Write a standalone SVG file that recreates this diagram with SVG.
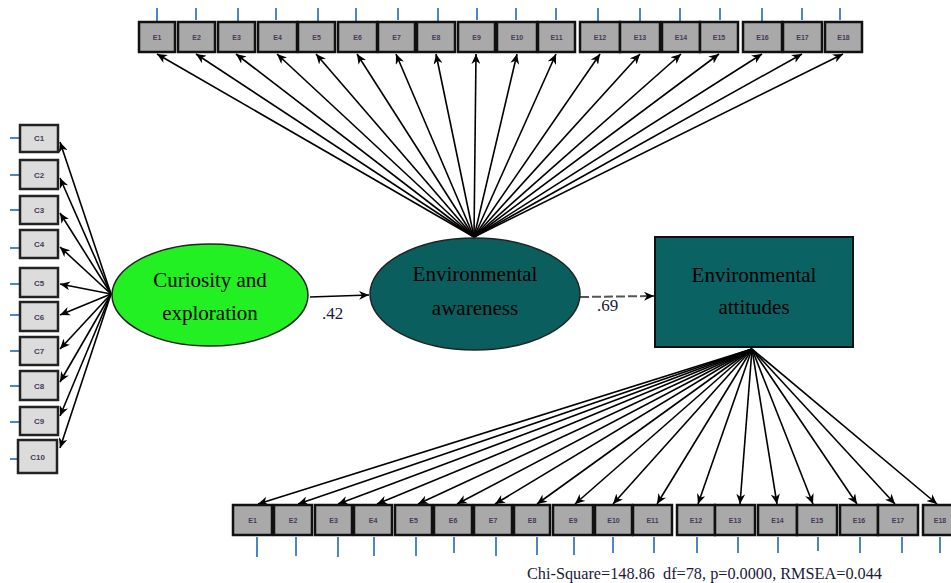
<svg xmlns="http://www.w3.org/2000/svg" width="951" height="583" viewBox="0 0 951 583">
<defs>
<marker id="ah" markerUnits="userSpaceOnUse" markerWidth="11" markerHeight="9" refX="10" refY="4.5" orient="auto">
<path d="M0,0 L10,4.5 L0,9 L3,4.5 z" fill="#000"/>
</marker>
<style>
.ib{fill:#a9a9a9;stroke:#111;stroke-width:2.5}
.cb{fill:#dcdcdc;stroke:#222;stroke-width:2.5}
.bl{stroke:#4a86c8;stroke-width:2}
.lt{font-family:"Liberation Sans",Arial,sans-serif;font-size:7px;font-weight:bold;fill:#4a3a5a;text-anchor:middle}
.ct{font-family:"Liberation Sans",Arial,sans-serif;font-size:8px;font-weight:bold;fill:#4a3a5a;text-anchor:middle}
.nt{font-family:"Liberation Serif","Times New Roman",serif;font-size:21px;fill:#000;text-anchor:middle}
.cn line{stroke:#000;stroke-width:1.6;marker-end:url(#ah)}
.pl{font-family:"Liberation Serif","Times New Roman",serif;font-size:17px;fill:#1a1a3a}
</style>
</defs>
<rect width="951" height="583" fill="#fff"/>

<g id="connectors" class="cn">
<!-- awareness to top indicators -->
<line x1="474" y1="237" x2="157" y2="54"/>
<line x1="474" y1="237" x2="196" y2="54"/>
<line x1="474" y1="237" x2="236" y2="54"/>
<line x1="474" y1="237" x2="277" y2="54"/>
<line x1="474" y1="237" x2="316" y2="54"/>
<line x1="474" y1="237" x2="357" y2="54"/>
<line x1="474" y1="237" x2="396" y2="54"/>
<line x1="474" y1="237" x2="436" y2="54"/>
<line x1="474" y1="237" x2="476" y2="54"/>
<line x1="474" y1="237" x2="517" y2="54"/>
<line x1="474" y1="237" x2="556" y2="54"/>
<line x1="474" y1="237" x2="600" y2="54"/>
<line x1="474" y1="237" x2="640" y2="54"/>
<line x1="474" y1="237" x2="681" y2="54"/>
<line x1="474" y1="237" x2="719" y2="54"/>
<line x1="474" y1="237" x2="762" y2="54"/>
<line x1="474" y1="237" x2="802" y2="54"/>
<line x1="474" y1="237" x2="843" y2="54"/>
<!-- curiosity to C indicators -->
<line x1="111" y1="294" x2="60" y2="142"/>
<line x1="111" y1="294" x2="60" y2="178"/>
<line x1="111" y1="294" x2="60" y2="213"/>
<line x1="111" y1="294" x2="60" y2="247"/>
<line x1="111" y1="294" x2="60" y2="284"/>
<line x1="111" y1="294" x2="60" y2="315"/>
<line x1="111" y1="294" x2="60" y2="349"/>
<line x1="111" y1="294" x2="60" y2="382"/>
<line x1="111" y1="294" x2="60" y2="416"/>
<line x1="111" y1="294" x2="60" y2="448"/>
<!-- attitudes to bottom indicators -->
<line x1="752" y1="349" x2="258" y2="504"/>
<line x1="752" y1="349" x2="298" y2="504"/>
<line x1="752" y1="349" x2="338" y2="504"/>
<line x1="752" y1="349" x2="377" y2="504"/>
<line x1="752" y1="349" x2="418" y2="504"/>
<line x1="752" y1="349" x2="457" y2="504"/>
<line x1="752" y1="349" x2="495" y2="504"/>
<line x1="752" y1="349" x2="537" y2="504"/>
<line x1="752" y1="349" x2="575" y2="504"/>
<line x1="752" y1="349" x2="613" y2="504"/>
<line x1="752" y1="349" x2="657" y2="504"/>
<line x1="752" y1="349" x2="698" y2="504"/>
<line x1="752" y1="349" x2="740" y2="504"/>
<line x1="752" y1="349" x2="777" y2="504"/>
<line x1="752" y1="349" x2="813" y2="504"/>
<line x1="752" y1="349" x2="857" y2="504"/>
<line x1="752" y1="349" x2="895" y2="504"/>
<line x1="752" y1="349" x2="937" y2="504"/>
<!-- structural paths -->
<line x1="310" y1="297" x2="369" y2="295"/>
<line x1="580" y1="297" x2="654" y2="296" style="stroke:#555;stroke-width:2;stroke-dasharray:9 3"/>
</g>

<g id="path-labels">
<text class="pl" x="322" y="319">.42</text>
<text class="pl" x="597" y="311">.69</text>
</g>

<g id="curiosity">
<ellipse cx="210" cy="295" rx="98" ry="51" fill="#22f022" stroke="#222" stroke-width="1.5"/>
<text class="nt" x="210" y="287">Curiosity and</text>
<text class="nt" x="210" y="320">exploration</text>
</g>

<g id="awareness">
<ellipse cx="475" cy="294" rx="105" ry="56" fill="#0b5e5e" stroke="#222" stroke-width="1.5"/>
<text class="nt" x="475" y="281">Environmental</text>
<text class="nt" x="475" y="315">awareness</text>
</g>

<g id="attitudes">
<rect x="655" y="237" width="198" height="110" fill="#0b6262" stroke="#111" stroke-width="2"/>
<text class="nt" x="754" y="282">Environmental</text>
<text class="nt" x="754" y="314">attitudes</text>
</g>

<g id="awareness-indicators">
<g id="A1"><line class="bl" x1="157" y1="8" x2="157" y2="22"/><rect class="ib" x="139" y="22" width="36" height="30"/><text class="lt" x="157" y="40">E1</text></g>
<g id="A2"><line class="bl" x1="196" y1="8" x2="196" y2="20"/><rect class="ib" x="178" y="22" width="37" height="30"/><text class="lt" x="196.5" y="40">E2</text></g>
<g id="A3"><line class="bl" x1="238" y1="8" x2="238" y2="22"/><rect class="ib" x="218" y="22" width="37" height="30"/><text class="lt" x="236.5" y="40">E3</text></g>
<g id="A4"><line class="bl" x1="276" y1="8" x2="276" y2="20"/><rect class="ib" x="258" y="22" width="39" height="30"/><text class="lt" x="277.5" y="40">E4</text></g>
<g id="A5"><line class="bl" x1="318" y1="8" x2="318" y2="22"/><rect class="ib" x="298" y="22" width="37" height="30"/><text class="lt" x="316.5" y="40">E5</text></g>
<g id="A6"><line class="bl" x1="356" y1="8" x2="356" y2="22"/><rect class="ib" x="338" y="22" width="39" height="30"/><text class="lt" x="357.5" y="40">E6</text></g>
<g id="A7"><line class="bl" x1="398" y1="8" x2="398" y2="20"/><rect class="ib" x="378" y="22" width="37" height="30"/><text class="lt" x="396.5" y="40">E7</text></g>
<g id="A8"><line class="bl" x1="438" y1="8" x2="438" y2="22"/><rect class="ib" x="417" y="22" width="38" height="30"/><text class="lt" x="436" y="40">E8</text></g>
<g id="A9"><line class="bl" x1="477" y1="8" x2="477" y2="20"/><rect class="ib" x="458" y="22" width="37" height="30"/><text class="lt" x="476.5" y="40">E9</text></g>
<g id="A10"><line class="bl" x1="516" y1="8" x2="516" y2="20"/><rect class="ib" x="497" y="22" width="40" height="30"/><text class="lt" x="517" y="40">E10</text></g>
<g id="A11"><line class="bl" x1="556" y1="8" x2="556" y2="20"/><rect class="ib" x="538" y="22" width="37" height="30"/><text class="lt" x="556.5" y="40">E11</text></g>
<g id="A12"><line class="bl" x1="598" y1="8" x2="598" y2="22"/><rect class="ib" x="580" y="22" width="40" height="30"/><text class="lt" x="600" y="40">E12</text></g>
<g id="A13"><line class="bl" x1="640" y1="8" x2="640" y2="24"/><rect class="ib" x="620" y="22" width="40" height="30"/><text class="lt" x="640" y="40">E13</text></g>
<g id="A14"><line class="bl" x1="680" y1="8" x2="680" y2="22"/><rect class="ib" x="662" y="22" width="38" height="30"/><text class="lt" x="681" y="40">E14</text></g>
<g id="A15"><line class="bl" x1="720" y1="8" x2="720" y2="20"/><rect class="ib" x="700" y="22" width="38" height="30"/><text class="lt" x="719" y="40">E15</text></g>
<g id="A16"><line class="bl" x1="762" y1="8" x2="762" y2="22"/><rect class="ib" x="743" y="22" width="39" height="30"/><text class="lt" x="762.5" y="40">E16</text></g>
<g id="A17"><line class="bl" x1="802" y1="8" x2="802" y2="20"/><rect class="ib" x="783" y="22" width="39" height="30"/><text class="lt" x="802.5" y="40">E17</text></g>
<g id="A18"><line class="bl" x1="840" y1="8" x2="840" y2="20"/><rect class="ib" x="825" y="22" width="37" height="30"/><text class="lt" x="843.5" y="40">E18</text></g>
</g>

<g id="curiosity-indicators">
<g id="C1"><line class="bl" x1="10" y1="138" x2="20" y2="138"/><rect class="cb" x="20" y="125" width="38" height="27"/><text class="ct" x="39" y="141">C1</text></g>
<g id="C2"><line class="bl" x1="10" y1="175" x2="20" y2="175"/><rect class="cb" x="20" y="160" width="38" height="29"/><text class="ct" x="39" y="178">C2</text></g>
<g id="C3"><line class="bl" x1="10" y1="210" x2="20" y2="210"/><rect class="cb" x="20" y="196" width="38" height="28"/><text class="ct" x="39" y="213">C3</text></g>
<g id="C4"><line class="bl" x1="10" y1="248" x2="20" y2="248"/><rect class="cb" x="20" y="230" width="38" height="28"/><text class="ct" x="39" y="247">C4</text></g>
<g id="C5"><line class="bl" x1="10" y1="284" x2="20" y2="284"/><rect class="cb" x="20" y="268" width="38" height="29"/><text class="ct" x="39" y="286">C5</text></g>
<g id="C6"><line class="bl" x1="10" y1="315" x2="20" y2="315"/><rect class="cb" x="20" y="302" width="38" height="29"/><text class="ct" x="39" y="320">C6</text></g>
<g id="C7"><line class="bl" x1="10" y1="351" x2="20" y2="351"/><rect class="cb" x="20" y="337" width="38" height="28"/><text class="ct" x="39" y="354">C7</text></g>
<g id="C8"><line class="bl" x1="10" y1="386" x2="20" y2="386"/><rect class="cb" x="20" y="371" width="38" height="29"/><text class="ct" x="39" y="389">C8</text></g>
<g id="C9"><line class="bl" x1="10" y1="422" x2="20" y2="422"/><rect class="cb" x="20" y="407" width="38" height="28"/><text class="ct" x="39" y="424">C9</text></g>
<g id="C10"><line class="bl" x1="10" y1="459" x2="18" y2="459"/><rect class="cb" x="18" y="440" width="39" height="33"/><text class="ct" x="37.5" y="460">C10</text></g>
</g>

<g id="attitude-indicators">
<g id="B1"><rect class="ib" x="233" y="505" width="39" height="30"/><line class="bl" x1="257" y1="537" x2="257" y2="557"/><text class="lt" x="252.5" y="523">E1</text></g>
<g id="B2"><rect class="ib" x="274" y="505" width="38" height="30"/><line class="bl" x1="296" y1="537" x2="296" y2="556"/><text class="lt" x="293" y="523">E2</text></g>
<g id="B3"><rect class="ib" x="315" y="505" width="37" height="30"/><line class="bl" x1="338" y1="537" x2="338" y2="557"/><text class="lt" x="333.5" y="523">E3</text></g>
<g id="B4"><rect class="ib" x="354" y="505" width="38" height="30"/><line class="bl" x1="374" y1="537" x2="374" y2="556"/><text class="lt" x="373" y="523">E4</text></g>
<g id="B5"><rect class="ib" x="395" y="505" width="37" height="30"/><line class="bl" x1="416" y1="537" x2="416" y2="556"/><text class="lt" x="413.5" y="523">E5</text></g>
<g id="B6"><rect class="ib" x="434" y="505" width="38" height="30"/><line class="bl" x1="454" y1="537" x2="454" y2="553"/><text class="lt" x="453" y="523">E6</text></g>
<g id="B7"><rect class="ib" x="474" y="505" width="38" height="30"/><line class="bl" x1="496" y1="537" x2="496" y2="556"/><text class="lt" x="493" y="523">E7</text></g>
<g id="B8"><rect class="ib" x="514" y="505" width="36" height="30"/><line class="bl" x1="537" y1="537" x2="537" y2="555"/><text class="lt" x="532" y="523">E8</text></g>
<g id="B9"><rect class="ib" x="553" y="505" width="40" height="30"/><line class="bl" x1="574" y1="537" x2="574" y2="555"/><text class="lt" x="573" y="523">E9</text></g>
<g id="B10"><rect class="ib" x="595" y="505" width="37" height="30"/><line class="bl" x1="613" y1="537" x2="613" y2="553"/><text class="lt" x="613.5" y="523">E10</text></g>
<g id="B11"><rect class="ib" x="633" y="505" width="39" height="30"/><line class="bl" x1="654" y1="537" x2="654" y2="553"/><text class="lt" x="652.5" y="523">E11</text></g>
<g id="B12"><rect class="ib" x="677" y="505" width="38" height="30"/><line class="bl" x1="697" y1="537" x2="697" y2="553"/><text class="lt" x="696" y="523">E12</text></g>
<g id="B13"><rect class="ib" x="715" y="505" width="40" height="30"/><line class="bl" x1="738" y1="537" x2="738" y2="553"/><text class="lt" x="735" y="523">E13</text></g>
<g id="B14"><rect class="ib" x="758" y="505" width="39" height="30"/><line class="bl" x1="778" y1="537" x2="778" y2="553"/><text class="lt" x="777.5" y="523">E14</text></g>
<g id="B15"><rect class="ib" x="797" y="505" width="40" height="30"/><line class="bl" x1="818" y1="537" x2="818" y2="551"/><text class="lt" x="817" y="523">E15</text></g>
<g id="B16"><rect class="ib" x="840" y="505" width="38" height="30"/><line class="bl" x1="860" y1="537" x2="860" y2="553"/><text class="lt" x="859" y="523">E16</text></g>
<g id="B17"><rect class="ib" x="878" y="505" width="40" height="30"/><line class="bl" x1="902" y1="537" x2="902" y2="553"/><text class="lt" x="898" y="523">E17</text></g>
<g id="B18"><rect class="ib" x="923" y="505" width="40" height="30"/><line class="bl" x1="940" y1="537" x2="940" y2="553"/><text class="lt" x="940" y="523">E18</text></g>
</g>

<g id="fit-statistics">
<text x="527" y="579" font-family="'Liberation Serif','Times New Roman',serif" font-size="16" fill="#1a1a3a" textLength="355" lengthAdjust="spacingAndGlyphs" xml:space="preserve">Chi-Square=148.86  df=78, p=0.0000, RMSEA=0.044</text>
</g>
</svg>
